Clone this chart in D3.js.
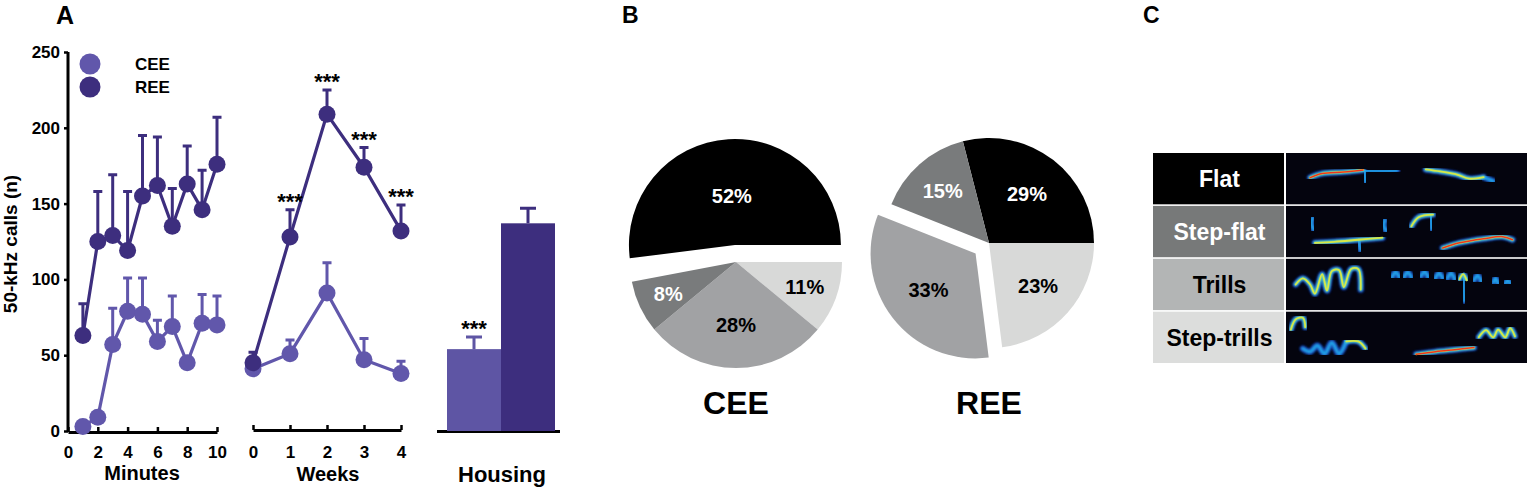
<!DOCTYPE html>
<html>
<head>
<meta charset="utf-8">
<script src="https://cdn.jsdelivr.net/npm/d3@7"></script>
<style>
  body { margin: 0; background: #fff; }
  text { font-family: "Liberation Sans", Arial, sans-serif; font-weight: bold; }
</style>
</head>
<body>
<div id="app"></div>
<script>
// ---- data: panel A ----
const minutes = [1, 2, 3, 4, 5, 6, 7, 8, 9, 10];
const ceeMinMean = [3, 9, 57, 79, 77, 59, 69, 45, 71, 70];
const ceeMinErr = [2, 3, 24, 22, 24, 14, 20, 4, 19, 19];
const reeMinMean = [63, 125, 129, 119, 155, 162, 135, 163, 146, 176];
const reeMinErr = [21, 33, 40, 39, 40, 32, 25, 25, 26, 31];

const weeks = [0, 1, 2, 3, 4];
const ceeWeekMean = [41, 51, 91, 47, 38];
const ceeWeekErr = [6, 9, 20, 14, 8];
const reeWeekMean = [45, 128, 209, 174, 132];
const reeWeekErr = [7, 18, 16, 13, 17];
const reeWeekSig = ["", "***", "***", "***", "***"];

const groups = ["CEE", "REE"];
const housingMean = [54, 137];
const housingErr = [8, 10];
const housingSig = ["***", ""];

const yTicks = [0, 50, 100, 150, 200, 250];
const minuteTicks = [0, 2, 4, 6, 8, 10];

// ---- data: panel B / C ----
const callTypes = ["Flat", "Step-flat", "Trills", "Step-trills"];
const ceeShares = [52, 8, 28, 11];
const reeShares = [29, 15, 33, 23];
const pieOrder = ["Flat", "Step-trills", "Trills", "Step-flat"];

// spectrogram strokes (fractions of each cell), decoration only
const spectroTraces = [
    {row: 0, heat: 2, pts: [[0.10, 0.48], [0.15, 0.40], [0.24, 0.37], [0.32, 0.33]]},
    {row: 0, heat: 0, pts: [[0.32, 0.34], [0.40, 0.35], [0.46, 0.34]]},
    {row: 0, heat: 0, pts: [[0.325, 0.36], [0.33, 0.56]]},
    {row: 0, heat: 1, pts: [[0.58, 0.32], [0.64, 0.36], [0.71, 0.42], [0.76, 0.50], [0.82, 0.47]]},
    {row: 0, heat: 0, pts: [[0.82, 0.47], [0.86, 0.55]]},
    {row: 0, heat: 0, pts: [[0.83, 0.50], [0.83, 0.76]]},
    {row: 1, heat: 0, pts: [[0.11, 0.24], [0.105, 0.34], [0.115, 0.46]]},
    {row: 1, heat: 1, pts: [[0.12, 0.72], [0.20, 0.70], [0.30, 0.66], [0.40, 0.62]]},
    {row: 1, heat: 0, pts: [[0.30, 0.66], [0.31, 0.86]]},
    {row: 1, heat: 0, pts: [[0.41, 0.28], [0.405, 0.38], [0.415, 0.48]]},
    {row: 1, heat: 1, pts: [[0.52, 0.40], [0.55, 0.22], [0.61, 0.17]]},
    {row: 1, heat: 0, pts: [[0.60, 0.20], [0.605, 0.45]]},
    {row: 1, heat: 2, pts: [[0.65, 0.82], [0.72, 0.72], [0.82, 0.64], [0.90, 0.60], [0.94, 0.66]]},
    {row: 1, heat: 0, pts: [[0.88, 0.62], [0.88, 0.86]]},
    {row: 2, heat: 1, pts: [[0.04, 0.50], [0.07, 0.38], [0.10, 0.50], [0.12, 0.68], [0.15, 0.30], [0.17, 0.62],
        [0.19, 0.24], [0.22, 0.22], [0.24, 0.55], [0.27, 0.20], [0.30, 0.20], [0.31, 0.60]]},
    {row: 2, heat: 0, pts: [[0.27, 0.25], [0.27, 0.86]]},
    {row: 2, heat: 0, pts: [[0.30, 0.25], [0.30, 0.76]]},
    {row: 2, heat: 0, pts: [[0.44, 0.36], [0.455, 0.26], [0.47, 0.36]]},
    {row: 2, heat: 0, pts: [[0.49, 0.36], [0.505, 0.26], [0.52, 0.36]]},
    {row: 2, heat: 0, pts: [[0.56, 0.34], [0.575, 0.25], [0.59, 0.36]]},
    {row: 2, heat: 0, pts: [[0.62, 0.38], [0.635, 0.28], [0.65, 0.38]]},
    {row: 2, heat: 0, pts: [[0.67, 0.38], [0.685, 0.28], [0.70, 0.40]]},
    {row: 2, heat: 1, pts: [[0.72, 0.40], [0.735, 0.30], [0.75, 0.42]]},
    {row: 2, heat: 0, pts: [[0.735, 0.32], [0.74, 0.82]]},
    {row: 2, heat: 0, pts: [[0.78, 0.42], [0.795, 0.32], [0.81, 0.44]]},
    {row: 2, heat: 0, pts: [[0.80, 0.36], [0.80, 0.70]]},
    {row: 2, heat: 0, pts: [[0.86, 0.46], [0.87, 0.38], [0.88, 0.48]]},
    {row: 2, heat: 0, pts: [[0.91, 0.48], [0.92, 0.42], [0.93, 0.48]]},
    {row: 3, heat: 1, pts: [[0.02, 0.35], [0.04, 0.15], [0.07, 0.12], [0.08, 0.30]]},
    {row: 3, heat: 0, pts: [[0.07, 0.72], [0.10, 0.78], [0.13, 0.66], [0.16, 0.82], [0.19, 0.60], [0.22, 0.82],
        [0.25, 0.58]]},
    {row: 3, heat: 1, pts: [[0.25, 0.58], [0.30, 0.58], [0.33, 0.72]]},
    {row: 3, heat: 0, pts: [[0.30, 0.60], [0.30, 0.92]]},
    {row: 3, heat: 2, pts: [[0.54, 0.83], [0.62, 0.78], [0.70, 0.74], [0.78, 0.70]]},
    {row: 3, heat: 1, pts: [[0.80, 0.50], [0.83, 0.36], [0.86, 0.50], [0.88, 0.35], [0.91, 0.50], [0.93, 0.32],
        [0.95, 0.48]]},
    {row: 3, heat: 0, pts: [[0.965, 0.10], [0.965, 0.95]]}
];

const ceeColor = "#6157ab";
const reeColor = "#3d2e7e";
const pieColors = {"Flat": "#000000", "Step-flat": "#797b7c", "Trills": "#a1a2a4", "Step-trills": "#d8d9d8"};
const tableColors = {"Flat": "#000000", "Step-flat": "#777979", "Trills": "#b3b5b5", "Step-trills": "#dcdddc"};
const darkFill = ["Flat", "Step-flat"];

const W = 1527;
const H = 488;

const svg = d3.select("#app")
    .append("svg")
    .attr("width", W)
    .attr("height", H)
    .style("display", "block");

svg.append("rect").attr("width", W).attr("height", H).style("fill", "#fff");

// PANEL LETTERS
svg.append("text").attr("x", 56).attr("y", 24).style("font-size", "25px").text("A");
svg.append("text").attr("x", 622).attr("y", 23).style("font-size", "23px").text("B");
svg.append("text").attr("x", 1143).attr("y", 23).style("font-size", "23px").text("C");

// ---- PANEL A ----
const y = d3.scaleLinear().domain([0, 250]).range([431, 52]);
const xMin = d3.scaleLinear().domain([0, 10]).range([68, 217]);
const xWeek = d3.scaleLinear().domain([0, 4]).range([253, 401]);
const xHouse = d3.scaleBand().domain(groups).range([447, 555]);

function styleAxis(g, size) {
    g.select(".domain").style("stroke-width", 3);
    g.selectAll(".tick line").style("stroke-width", 2.5);
    g.selectAll(".tick text").style("font-size", size + "px").style("font-family", "Liberation Sans, Arial, sans-serif")
        .style("font-weight", "bold").style("fill", "#000");
}

//Y AXIS
const yAxis = svg.append("g")
    .attr("transform", "translate(68,0)")
    .call(d3.axisLeft(y).tickValues(yTicks).tickSize(4).tickPadding(4).tickSizeOuter(0));
styleAxis(yAxis, 17);
yAxis.select(".domain").attr("d", "M0,52V432");

svg.append("text")
    .attr("transform", "translate(17,244) rotate(-90)")
    .attr("text-anchor", "middle")
    .style("font-size", "19px")
    .text("50-kHz calls (n)");

//MINUTES
const minAxis = svg.append("g")
    .attr("transform", "translate(0,432)")
    .call(d3.axisBottom(xMin).tickValues(minuteTicks).tickSize(-5).tickPadding(14).tickSizeOuter(0));
styleAxis(minAxis, 17);

svg.append("text").attr("x", 142).attr("y", 480).attr("text-anchor", "middle")
    .style("font-size", "20px").text("Minutes");

//WEEKS
const weekAxis = svg.append("g")
    .attr("transform", "translate(0,430)")
    .call(d3.axisBottom(xWeek).tickValues(weeks).tickFormat(d3.format("d"))
        .tickSize(-5).tickPadding(16).tickSizeOuter(0));
styleAxis(weekAxis, 17);

svg.append("text").attr("x", 328).attr("y", 481).attr("text-anchor", "middle")
    .style("font-size", "20px").text("Weeks");

function pack(ts, means, errs) {
    return ts.map(function (t, i) {
        return {t: t, mean: means[i], err: errs[i]};
    });
}

function drawSeries(data, xs, color) {
    const g = svg.append("g");
    g.selectAll(".err")
        .data(data)
        .enter()
        .append("path")
        .attr("d", function (d) {
            const x = xs(d.t);
            const top = y(d.mean + d.err);
            return "M" + x + "," + y(d.mean) + "V" + top + "M" + (x - 4.5) + "," + top + "H" + (x + 4.5);
        })
        .style("fill", "none")
        .style("stroke", color)
        .style("stroke-width", 3);
    g.append("path")
        .datum(data)
        .attr("d", d3.line()
            .x(function (d) { return xs(d.t); })
            .y(function (d) { return y(d.mean); }))
        .style("fill", "none")
        .style("stroke", color)
        .style("stroke-width", 3.2);
    g.selectAll("circle")
        .data(data)
        .enter()
        .append("circle")
        .attr("cx", function (d) { return xs(d.t); })
        .attr("cy", function (d) { return y(d.mean); })
        .attr("r", 8.5)
        .style("fill", color);
}

drawSeries(pack(minutes, ceeMinMean, ceeMinErr), xMin, ceeColor);
drawSeries(pack(minutes, reeMinMean, reeMinErr), xMin, reeColor);
drawSeries(pack(weeks, ceeWeekMean, ceeWeekErr), xWeek, ceeColor);
drawSeries(pack(weeks, reeWeekMean, reeWeekErr), xWeek, reeColor);

svg.selectAll(".wsig")
    .data(weeks)
    .enter()
    .append("text")
    .attr("x", function (t) { return xWeek(t); })
    .attr("y", function (t, i) { return y(reeWeekMean[i] + reeWeekErr[i]) - 1; })
    .attr("text-anchor", "middle")
    .style("font-size", "22px")
    .text(function (t, i) { return reeWeekSig[i]; });

//LEGEND
const legend = svg.append("g");
legend.selectAll("circle")
    .data(groups)
    .enter()
    .append("circle")
    .attr("cx", 90)
    .attr("cy", function (d, i) { return 64 + i * 23; })
    .attr("r", 10.5)
    .style("fill", function (d, i) { return i === 0 ? ceeColor : reeColor; });
legend.selectAll("text")
    .data(groups)
    .enter()
    .append("text")
    .attr("x", 135)
    .attr("y", function (d, i) { return 64 + i * 23 + 6; })
    .style("font-size", "17px")
    .text(function (d) { return d; });

//HOUSING
svg.append("line")
    .attr("x1", xHouse.range()[0] - 10)
    .attr("x2", xHouse.range()[1] + 5)
    .attr("y1", 431.5)
    .attr("y2", 431.5)
    .style("stroke", "#000")
    .style("stroke-width", 3);

svg.selectAll(".hbar")
    .data(groups)
    .enter()
    .append("rect")
    .attr("x", function (d) { return xHouse(d); })
    .attr("y", function (d, i) { return y(housingMean[i]); })
    .attr("width", xHouse.bandwidth())
    .attr("height", function (d, i) { return y(0) - y(housingMean[i]); })
    .style("fill", function (d, i) { return i === 0 ? "#5e55a4" : reeColor; });

svg.selectAll(".herr")
    .data(groups)
    .enter()
    .append("path")
    .attr("d", function (d, i) {
        const x = xHouse(d) + xHouse.bandwidth() / 2;
        const top = y(housingMean[i] + housingErr[i]);
        return "M" + x + "," + y(housingMean[i]) + "V" + top + "M" + (x - 8) + "," + top + "H" + (x + 8);
    })
    .style("fill", "none")
    .style("stroke", function (d, i) { return i === 0 ? "#5e55a4" : reeColor; })
    .style("stroke-width", 3);

svg.selectAll(".hsig")
    .data(groups)
    .enter()
    .append("text")
    .attr("x", function (d) { return xHouse(d) + xHouse.bandwidth() / 2; })
    .attr("y", function (d, i) { return y(housingMean[i] + housingErr[i]) - 1; })
    .attr("text-anchor", "middle")
    .style("font-size", "22px")
    .text(function (d, i) { return housingSig[i]; });

svg.append("text").attr("x", 502).attr("y", 482).attr("text-anchor", "middle")
    .style("font-size", "22px").text("Housing");

// ---- PANEL B ----
function drawPie(shares, cx, cy, r, title) {
    const slices = pieOrder.map(function (name) {
        return {name: name, value: shares[callTypes.indexOf(name)]};
    });
    const total = d3.sum(slices, function (d) { return d.value; });
    const largest = d3.max(slices, function (d) { return d.value; });
    const start = Math.PI / 2 - slices[0].value / 100 * 2 * Math.PI;
    const pie = d3.pie()
        .sort(null)
        .value(function (d) { return d.value; })
        .startAngle(start)
        .endAngle(start + total / 100 * 2 * Math.PI);
    const arc = d3.arc().innerRadius(0).outerRadius(r);
    const g = svg.append("g").attr("transform", "translate(" + cx + "," + cy + ")");

    const arcs = pie(slices).map(function (a) {
        const mid = (a.startAngle + a.endAngle) / 2;
        const off = a.data.value === largest ? 17 : 0;
        a.dx = off * Math.sin(mid);
        a.dy = -off * Math.cos(mid);
        const lr = r * (0.75 - 0.55 * a.data.value / 100);
        a.lx = a.dx + lr * Math.sin(mid);
        a.ly = a.dy - lr * Math.cos(mid);
        return a;
    });

    g.selectAll("path")
        .data(arcs)
        .enter()
        .append("path")
        .attr("transform", function (a) { return "translate(" + a.dx + "," + a.dy + ")"; })
        .attr("d", arc)
        .style("fill", function (a) { return pieColors[a.data.name]; });

    g.selectAll("text")
        .data(arcs)
        .enter()
        .append("text")
        .attr("x", function (a) { return a.lx; })
        .attr("y", function (a) { return a.ly; })
        .attr("dy", "0.36em")
        .attr("text-anchor", "middle")
        .style("font-size", "20px")
        .style("fill", function (a) { return darkFill.indexOf(a.data.name) >= 0 ? "#fff" : "#000"; })
        .text(function (a) { return a.data.value + "%"; });

    svg.append("text")
        .attr("x", cx)
        .attr("y", 414)
        .attr("text-anchor", "middle")
        .style("font-size", "32px")
        .text(title);
}

drawPie(ceeShares, 736, 262, 106, "CEE");
drawPie(reeShares, 989, 243, 105, "REE");

// ---- PANEL C ----
const rowBand = d3.scaleBand().domain(callTypes).range([153, 363]).paddingInner(0.03);
const labelX0 = 1153;
const labelX1 = 1284;
const imgX0 = 1286;
const imgX1 = 1527;

const defs = svg.append("defs");
defs.append("filter").attr("id", "soft")
    .append("feGaussianBlur").attr("stdDeviation", 1.1);

const table = svg.append("g");
table.selectAll(".lab")
    .data(callTypes)
    .enter()
    .append("rect")
    .attr("x", labelX0)
    .attr("y", function (d) { return rowBand(d); })
    .attr("width", labelX1 - labelX0)
    .attr("height", rowBand.bandwidth())
    .style("fill", function (d) { return tableColors[d]; });

table.selectAll(".img")
    .data(callTypes)
    .enter()
    .append("rect")
    .attr("x", imgX0)
    .attr("y", function (d) { return rowBand(d); })
    .attr("width", imgX1 - imgX0)
    .attr("height", rowBand.bandwidth())
    .style("fill", "#04040e");

table.selectAll(".labtext")
    .data(callTypes)
    .enter()
    .append("text")
    .attr("x", (labelX0 + labelX1) / 2 + 1)
    .attr("y", function (d) { return rowBand(d) + rowBand.bandwidth() / 2; })
    .attr("dy", "0.36em")
    .attr("text-anchor", "middle")
    .style("font-size", "23px")
    .style("fill", function (d) { return darkFill.indexOf(d) >= 0 ? "#fff" : "#000"; })
    .text(function (d) { return d; });

const sx = d3.scaleLinear().domain([0, 1]).range([imgX0, imgX1]);
const layers = [
    {minHeat: 0, color: "#1a45c8", width: 6.5, blur: true, opacity: 0.8},
    {minHeat: 0, color: "#22a8ec", width: 3.6, blur: true, opacity: 0.95},
    {minHeat: 1, color: "#7fe0a0", width: 2.6, blur: true, opacity: 0.9},
    {minHeat: 1, color: "#e4ec3a", width: 1.8, blur: false, opacity: 0.9},
    {minHeat: 2, color: "#ee2a1c", width: 1.5, blur: false, opacity: 0.95}
];

layers.forEach(function (layer) {
    table.selectAll(null)
        .data(spectroTraces.filter(function (t) { return t.heat >= layer.minHeat; }))
        .enter()
        .append("path")
        .attr("d", function (t) {
            const top = rowBand(callTypes[t.row]);
            const sy = d3.scaleLinear().domain([0, 1]).range([top, top + rowBand.bandwidth()]);
            return d3.line()
                .x(function (p) { return sx(p[0]); })
                .y(function (p) { return sy(p[1]); })
                .curve(d3.curveCatmullRom)(t.pts);
        })
        .attr("filter", layer.blur ? "url(#soft)" : null)
        .style("fill", "none")
        .style("stroke", layer.color)
        .style("stroke-width", layer.width)
        .style("stroke-linecap", "round")
        .style("stroke-linejoin", "round")
        .style("opacity", layer.opacity);
});
</script>
</body>
</html>
